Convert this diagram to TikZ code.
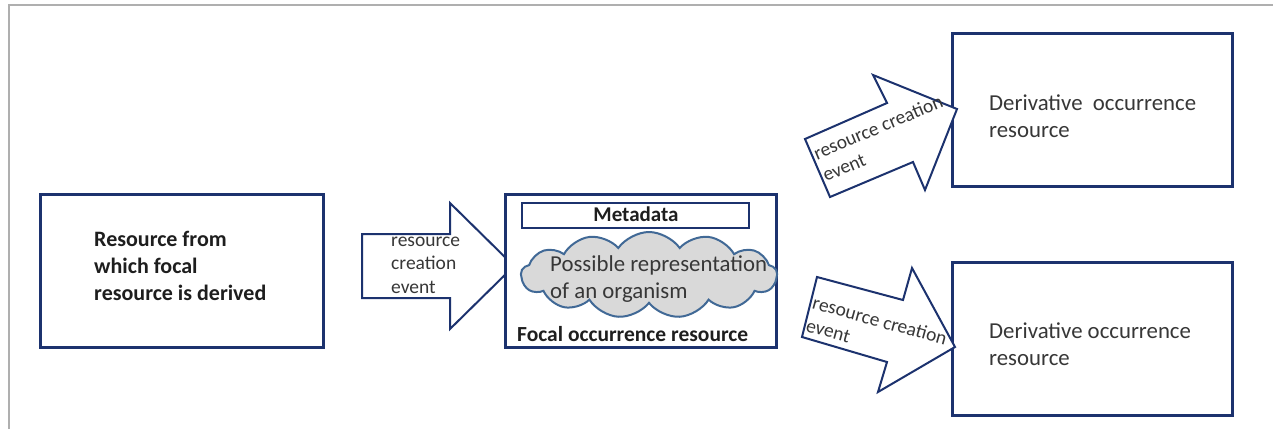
\documentclass[tikz,border=0pt]{standalone}
\usepackage{fontspec}
\setmainfont{Carlito}
\usetikzlibrary{shapes.symbols}
\definecolor{navy}{RGB}{28,50,110}
\definecolor{cloudline}{RGB}{65,105,150}
\definecolor{cloudfill}{RGB}{217,217,217}
\definecolor{framegray}{RGB}{175,175,175}
\definecolor{txt}{RGB}{30,30,30}
\definecolor{txtreg}{RGB}{55,55,55}
\tikzset{
  box/.style={draw=navy, line width=3pt, fill=white},
  blockarrow/.style={draw=navy, line width=2pt, fill=white, line join=miter},
  boldtxt/.style={font=\fontsize{22}{27}\selectfont\bfseries, text=txt, inner sep=0pt, align=left, anchor=base west},
  regtxt/.style={font=\fontsize{22.8}{27}\selectfont, text=txtreg, inner sep=0pt, align=left, anchor=base west},
  arrtxt/.style={font=\fontsize{19.5}{23.5}\selectfont, text=txtreg, inner sep=0pt, align=left, anchor=base west},
}
\begin{document}
\begin{tikzpicture}[x=1pt,y=-1pt]
\useasboundingbox (0,0) rectangle (1273,429);
% frame
\draw[framegray, line width=2pt] (9,429) -- (9,5) -- (1273,5);
% boxes
\draw[box] (40,194) rectangle (323,347);
\node[boldtxt] (src) at (94,300) {Resource from\\which focal\\resource is derived};
% arrow 1
\draw[blockarrow] (362,234) -- (450,234) -- (450,203) -- (514,266) -- (450,329) -- (450,298) -- (362,298) -- cycle;
\node[arrtxt] (ev1) at (391,293) {resource\\creation\\event};
% focal box
\draw[box] (505,194) rectangle (776,347);
\draw[draw=navy, line width=2.5pt, fill=white] (522,203) rectangle (749,228);
\node[font=\fontsize{21}{25}\selectfont\bfseries, text=txt, inner sep=0pt, anchor=base] (meta) at (636,221) {Metadata};
\node[cloud, cloud puffs=13, cloud puff arc=110, cloud ignores aspect, minimum width=256pt, minimum height=86pt, draw=cloudline, line width=2pt, fill=cloudfill, inner sep=0pt] (cloud) at (649,275) {};
\node[regtxt] (org) at (550,298) {Possible representation\\of an organism};
\node[boldtxt, font=\fontsize{21.5}{26}\selectfont\bfseries] (focal) at (517,341) {Focal occurrence resource};
% derivative boxes
\draw[box] (952,33) rectangle (1232,186);
\node[regtxt] (d1) at (989,137) {Derivative\ \ occurrence\\resource};
\draw[box] (952,262) rectangle (1232,415);
\node[regtxt] (d2) at (989,365) {Derivative occurrence\\resource};
% rotated arrows
\draw[blockarrow] (805,139) -- (887,103) -- (873,75) -- (957,109) -- (925,190) -- (913,162) -- (830,197) -- cycle;
\node[arrtxt, rotate=23] (ev2) at (826,182) {resource creation\\event};
\draw[blockarrow] (817,277) -- (903,300) -- (912,268) -- (955,347) -- (878,392) -- (887,362) -- (802,337) -- cycle;
\node[arrtxt, rotate=-15.5] (ev3) at (805,331) {resource creation\\event};
\end{tikzpicture}
\end{document}
